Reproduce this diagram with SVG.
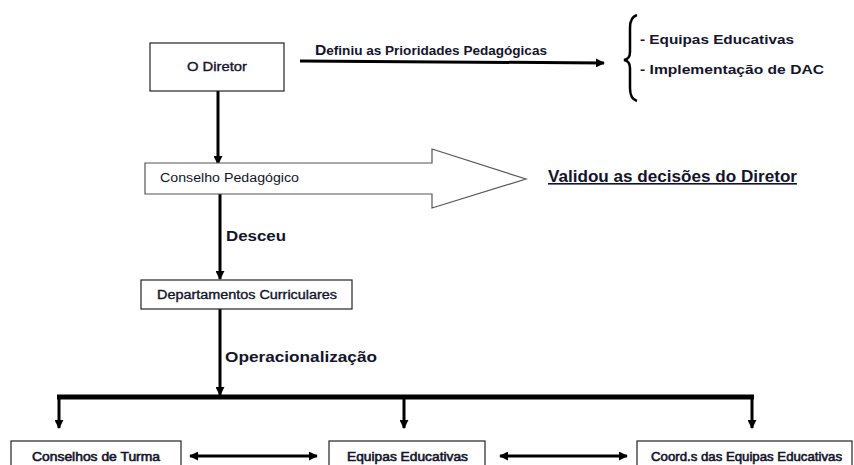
<svg xmlns="http://www.w3.org/2000/svg" width="854" height="465" viewBox="0 0 854 465">
<defs>
<style>
.box{fill:#fff;stroke:#222;stroke-width:1.2}
.t{font-family:"Liberation Sans",Arial,sans-serif;fill:#14142b}
.bx{font-size:12px;stroke:#14142b;stroke-width:0.35}
.bb{font-size:12px;stroke:#14142b;stroke-width:0.55}
.lb{font-size:14px;font-weight:bold}
.ln{stroke:#000;stroke-width:3;fill:none}
</style>
<marker id="ah" viewBox="0 0 10 10" refX="9" refY="5" markerUnits="userSpaceOnUse" markerWidth="9" markerHeight="9" orient="auto-start-reverse">
<path d="M0,0 L10,5 L0,10 z" fill="#000"/>
</marker>
</defs>
<rect width="854" height="465" fill="#fff"/>

<g id="connectors">
<line class="ln" x1="218" y1="91" x2="218" y2="164" marker-end="url(#ah)"/>
<line class="ln" x1="300" y1="61" x2="604" y2="63" marker-end="url(#ah)"/>
<line class="ln" x1="220" y1="194" x2="220" y2="279" marker-end="url(#ah)"/>
<line class="ln" x1="220" y1="309" x2="220" y2="395" marker-end="url(#ah)"/>
<line x1="57" y1="397" x2="754" y2="397" stroke="#000" stroke-width="5"/>
<line class="ln" x1="59" y1="397" x2="59" y2="428" marker-end="url(#ah)"/>
<line class="ln" x1="404" y1="397" x2="404" y2="428" marker-end="url(#ah)"/>
<line class="ln" x1="752" y1="397" x2="752" y2="428" marker-end="url(#ah)"/>
<line class="ln" x1="190" y1="456" x2="317" y2="456" marker-start="url(#ah)" marker-end="url(#ah)"/>
<line class="ln" x1="500" y1="456" x2="627" y2="456" marker-start="url(#ah)" marker-end="url(#ah)"/>
<text class="t" x="315" y="55" font-size="13" font-weight="bold" textLength="232" lengthAdjust="spacingAndGlyphs"><tspan font-size="15">D</tspan>efiniu as Prioridades Pedagógicas</text>
<text class="t lb" x="226" y="241" textLength="60" lengthAdjust="spacingAndGlyphs">Desceu</text>
<text class="t lb" x="225" y="362" textLength="152" lengthAdjust="spacingAndGlyphs">Operacionalização</text>
</g>

<g id="brace">
<path d="M637,15 Q630,17 630,28 L630,52 Q630,59 624,60 Q630,61 630,68 L630,88 Q630,99 637,101" fill="none" stroke="#000" stroke-width="2.5"/>
<text class="t" x="640" y="44" font-size="13" font-weight="bold" textLength="154" lengthAdjust="spacingAndGlyphs">- Equipas Educativas</text>
<text class="t" x="640" y="74" font-size="13" font-weight="bold" textLength="184" lengthAdjust="spacingAndGlyphs">- Implementação de DAC</text>
</g>

<g id="diretor">
<rect class="box" x="150" y="43" width="134" height="48"/>
<text class="t bx" x="187" y="71" textLength="60" lengthAdjust="spacingAndGlyphs">O Diretor</text>
</g>

<g id="conselho-pedagogico">
<polygon points="145,163 432,163 432,149 526,179 432,208 432,194 145,194" fill="#fff" stroke="#555" stroke-width="1.2"/>
<text class="t" x="160" y="182" font-size="12" textLength="139" lengthAdjust="spacingAndGlyphs">Conselho Pedagógico</text>
</g>

<g id="validou">
<text class="t" x="548" y="182" font-size="16" font-weight="bold" text-decoration="underline" textLength="249" lengthAdjust="spacingAndGlyphs">Validou as decisões do Diretor</text>
</g>

<g id="departamentos">
<rect class="box" x="141" y="280" width="211" height="29"/>
<text class="t bx" x="157" y="299" textLength="180" lengthAdjust="spacingAndGlyphs">Departamentos Curriculares</text>
</g>

<g id="conselhos-turma">
<rect class="box" x="11" y="441" width="170" height="32"/>
<text class="t bb" x="32" y="461" textLength="128" lengthAdjust="spacingAndGlyphs">Conselhos de Turma</text>
</g>

<g id="equipas-educativas">
<rect class="box" x="329" y="441" width="156" height="32"/>
<text class="t bb" x="347" y="461" textLength="121" lengthAdjust="spacingAndGlyphs">Equipas Educativas</text>
</g>

<g id="coord-equipas">
<rect class="box" x="637" y="441" width="215" height="32"/>
<text class="t bb" x="651" y="461" textLength="191" lengthAdjust="spacingAndGlyphs">Coord.s das Equipas Educativas</text>
</g>
</svg>
